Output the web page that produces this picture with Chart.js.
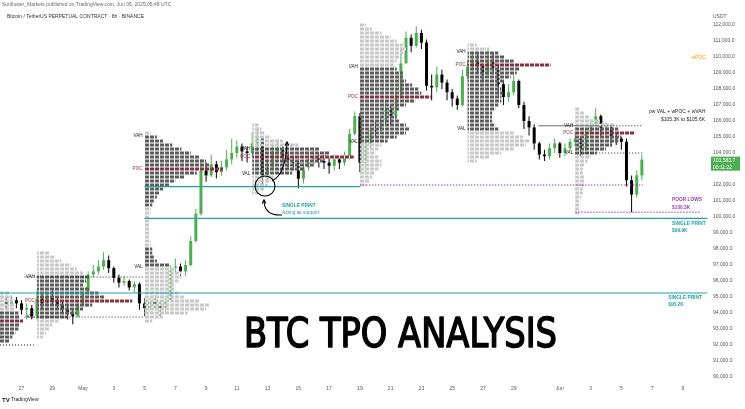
<!DOCTYPE html>
<html>
<head>
<meta charset="utf-8">
<script src="https://cdn.jsdelivr.net/npm/chart.js@4.4.1/dist/chart.umd.min.js"></script>
<style>
html,body{margin:0;padding:0;background:#ffffff;overflow:hidden;}
#c{display:block;}
</style>
</head>
<body>
<canvas id="c" width="745" height="409"></canvas>
<script>
// ================= DATA (prices in thousand USDT, time in days from May 1 00:00) =================
const firstCandleDay = -5;      // Apr 26 00:00
const candlesPerDay = 3;        // 8h candles
const firstOpen = 94.7;
const closes = [
  94.5,94.8,94.6, 94.2,94.3,93.8, 94.9,94.6,95.0, 94.8,94.5,94.3, 94.0,93.8,94.5,
  95.2,96.4,96.6, 96.9,97.3,96.8, 96.2,95.9,96.0, 95.6,95.8,94.6, 94.3,94.7,94.5,
  94.2,94.8,96.8, 96.9,96.6,97.0, 98.5,100.2,102.9, 102.6,103.3,102.8, 103.1,103.6,104.0,
  104.4,104.1,104.0, 104.6,104.9,102.6, 103.1,104.1,104.2, 103.8,103.5,103.4, 102.4,103.1,103.6,
  103.8,103.5,103.4, 103.2,103.6,103.4, 103.7,105.2,106.3, 103.4,104.6,105.5, 105.4,105.9,106.7,
  106.3,107.6,109.6, 111.2,110.7,111.5, 110.9,108.2,108.1, 108.9,108.4,107.8, 107.4,107.0,108.8,
  109.4,109.8,109.5, 108.9,109.8,109.3, 108.3,107.5,107.8, 108.5,107.0,106.0, 105.6,104.6,103.9,
  103.8,104.3,104.6, 104.0,104.3,104.7, 104.9,104.2,105.3, 105.8,106.3,105.4, 105.6,105.0,104.9,
  104.7,102.3,101.4, 102.6,103.5837
];
const highs = [
  95.0,95.1,95.0, 94.8,94.6,94.5, 95.4,95.2,95.3, 95.4,95.0,94.8, 94.6,94.3,94.8,
  95.4,96.6,97.0, 97.3,97.8,97.6, 96.9,96.4,96.3, 96.1,96.0,95.9, 94.9,95.0,95.1,
  94.7,95.0,97.0, 97.4,97.1,97.3, 98.8,100.5,103.6, 103.4,103.9,103.5, 103.5,104.2,104.9,
  104.8,104.6,104.4, 105.3,105.6,104.9, 103.6,104.6,104.8, 104.4,104.1,103.8, 103.6,103.4,104.1,
  104.2,104.0,103.9, 103.7,103.9,103.8, 104.1,105.5,106.6, 106.5,105.0,105.8, 106.0,106.3,107.2,
  107.0,108.0,110.6, 111.6,111.4,111.9, 111.7,111.1,108.9, 109.4,109.2,108.6, 108.0,107.6,109.2,
  109.8,110.3,110.2, 109.6,110.6,110.3, 109.5,108.5,108.3, 108.9,108.6,107.2, 106.3,105.8,104.7,
  104.2,104.6,104.9, 104.7,104.6,104.9, 105.3,105.0,105.6, 106.1,106.8,106.4, 105.9,105.7,105.3,
  105.0,104.9,102.6, 102.9,103.9
];
const lows = [
  94.3,94.4,94.3, 93.9,93.6,93.6, 93.6,94.3,94.4, 94.5,94.2,94.0, 93.6,93.3,93.7,
  94.4,95.1,96.2, 96.4,96.7,96.5, 95.9,95.6,95.7, 95.4,95.3,94.2, 93.8,94.1,94.3,
  93.8,94.0,94.7, 96.4,96.2,96.3, 96.9,98.4,100.1, 102.2,102.5,102.4, 102.6,102.9,103.3,
  103.7,103.5,103.4, 103.8,104.1,101.9, 102.3,102.9,103.6, 103.4,103.1,102.9, 101.8,102.1,102.9,
  103.3,103.1,103.0, 102.7,102.9,103.0, 103.2,103.6,105.1, 102.8,102.7,104.3, 105.0,105.2,105.7,
  105.8,106.1,107.5, 109.6,110.3,110.6, 110.5,107.9,107.3, 107.8,108.0,107.3, 106.9,106.7,106.9,
  108.6,109.1,109.0, 108.4,108.7,108.9, 107.6,107.0,107.2, 107.6,106.8,105.5, 105.1,104.2,103.6,
  103.5,103.6,104.0, 103.7,103.8,104.1, 104.4,103.8,104.1, 105.1,105.6,105.0, 105.0,104.6,104.5,
  104.2,101.9,100.3, 101.2,102.3
];

// axis ticks
const xTickDays   = [-4,-2,0,2,4,6,8,10,12,14,16,18,20,22,24,26,28,31,33,35,37,39];
const xTickLabels = ['27','29','May','3','5','7','9','11','13','15','17','19','21','23','25','27','29','Jun','3','5','7','9'];
const yTickValues = [90000,91000,92000,93000,94000,95000,96000,97000,98000,99000,100000,101000,
                     102000,103000,104000,105000,106000,107000,108000,109000,110000,111000,112000];

// weekly TPO profiles (row step 0.25k, row length in days)
const profileStart = [-10, -3, 4, 11, 18, 25, 32];
const profileLow   = [92.25, 92.5, 93.5, 101.5, 102.0, 103.5, 100.25];
const profileRowStep = 0.25;
const profileRows = [
  [5.2,5.4,5.6,5.8,5.9,6.1,5.9,5.8,5.6,5.5,5.4,5.3,5.2],
  [0.4,0.6,0.8,1.0,1.4,2.0,2.6,3.0,3.6,6.2,4.4,4.0,3.4,3.0,3.2,3.4,3.0,2.6,2.2,1.6,1.2,0.8],
  [0.5,1.2,2.8,4.0,4.2,3.6,2.6,2.2,2.0,2.0,2.2,2.4,2.4,2.0,1.6,0.8,0.6,0.5,0.5,0.4,0.4,0.33,0.33,0.33,
   0.33,0.33,0.33,0.4,0.4,0.5,0.6,0.8,1.0,1.2,1.6,2.0,2.6,3.4,5.1,4.2,4.0,3.6,3.0,2.4,1.8,1.2,0.8,0.4],
  [0.4,0.8,1.0,1.2,1.4,2.6,3.4,4.0,4.6,6.6,5.0,4.4,3.0,2.0,1.2,0.8,0.6,0.4],
  [0.4,0.6,0.8,1.0,1.2,1.4,1.4,1.2,1.0,1.2,1.4,1.8,2.4,3.0,3.2,3.0,2.6,2.4,2.2,2.6,3.0,3.6,4.6,4.0,3.8,
   3.4,3.0,2.8,2.8,2.4,2.2,2.4,2.6,2.8,3.0,2.8,2.4,2.0,1.4,0.8,0.4],
  [0.6,1.4,2.2,3.0,3.8,4.0,3.6,3.0,2.0,1.8,1.6,1.6,1.6,1.8,2.0,2.2,2.2,2.3,2.2,2.0,2.4,2.8,3.2,3.4,5.4,
   3.0,2.4,2.0,1.2,0.6],
  [0.33,0.33,0.33,0.33,0.4,0.5,0.5,0.6,0.6,0.6,0.5,0.5,0.6,0.8,1.0,1.4,2.0,2.4,2.8,3.0,3.9,2.8,2.6,1.6,1.0,0.6,0.3]
];
const profilePOC = [93.5, 94.75, 103.0, 103.75, 107.5, 109.5, 105.25];
const profileVAH = [94.0, 96.25, 105.1, 104.25, 109.4, 110.3, 105.7];
const profileVAL = [92.0, 93.75, 96.9, 102.7, 104.7, 105.5, 104.0];

// horizontal levels
const xMin = -5.4, xMax = 40.7;
const tealLevels   = [101.9, 99.92, 95.25];
const tealFrom     = [4, 4, xMin];
const tealTo       = [18, 40.6, 40.6];
const purpleLevels = [102.0, 100.3];
const purpleFrom   = [18, 32];
const purpleTo     = [36.4, 40.1];
const dottedLevels = [92.0, 96.25, 93.75, 105.7, 104.0];
const dottedFrom   = [xMin, -3.8, -3.8, 33.5, 32];
const dottedTo     = [-3.2, 3.9, 3.9, 36.4, 36.4];
const solidLevels  = [105.7];
const solidFrom    = [29.6];
const solidTo      = [33.5];

// text notes anchored in data space [text, day, price(k)]
const notesLeft = [
  ['POOR LOWS', 38.3, 101.06, 'purple'], ['$100.3K', 38.3, 100.6, 'purple'],
  ['SINGLE PRINT', 38.3, 99.56, 'teal'], ['$99.9K', 38.3, 99.12, 'teal'],
  ['SINGLE PRINT', 38.05, 94.94, 'teal'], ['$95.2K', 38.05, 94.5, 'teal']
];
const notesRight = [
  ['pw VAL + wPOC + wVAH', 40.45, 106.56, 'black'], ['$105.3K to $105.6K', 40.45, 106.06, 'black'],
  ['wPOC', 40.5, 109.94, 'orange']
];
const circleCenter = [11.83, 101.94];
const circleNotes = ['SINGLE PRINT', 'Acting as support'];
const titleText = 'BTC TPO ANALYSIS';
const lastPriceText = ['103,583.7', '00:11:22'];

// ================= STYLE =================
const FONT = '"Liberation Sans", Arial, sans-serif';
const C = {
  up:'#4caf50', down:'#000000', teal:'#1fa3a6', purple:'#a03ab8', orange:'#ff9800',
  poc:'#8a2f3d', dark:'#5c5c5c', light:'#c8c8c8', black:'#1a1a1a', axis:'#555555'
};
const canvas = document.getElementById('c');
const ctx0 = canvas.getContext('2d');
function stripe(color){
  const c = document.createElement('canvas'); c.width = 5; c.height = 1;
  const g = c.getContext('2d');
  g.fillStyle = '#ffffff'; g.fillRect(0,0,5,1);
  g.fillStyle = color; g.fillRect(0,0,4,1);
  return ctx0.createPattern(c, 'repeat');
}
const patDark = stripe(C.dark), patLight = stripe(C.light), patPoc = stripe(C.poc);

// ================= BUILD DATASETS =================
const K = 1000;
const opens = closes.map((c,i)=> i===0 ? firstOpen : closes[i-1]);
const candleDay = closes.map((_,i)=> firstCandleDay + i/candlesPerDay);
const candleColor = closes.map((c,i)=> c >= opens[i] ? C.up : C.down);

const wickData = candleDay.map((t,i)=>({x:t, y:[lows[i]*K, highs[i]*K]}));
const bodyData = candleDay.map((t,i)=>({x:t, y:[opens[i]*K, closes[i]*K]}));

const rowData = [], rowColor = [];
profileRows.forEach((rows,k)=>{
  rows.forEach((len,j)=>{
    const p = profileLow[k] + j*profileRowStep;
    rowData.push({y:p*K, x:[profileStart[k], profileStart[k]+len]});
    const inVA = p >= profileVAL[k] - 1e-6 && p <= profileVAH[k] + 1e-6;
    let col = (inVA && len > 0.45) ? patDark : patLight;
    if (Math.abs(p - profilePOC[k]) < 1e-6) col = patPoc;
    rowColor.push(col);
  });
});

function levelSets(levels, from, to, color, dash, width){
  return levels.map((p,i)=>({
    type:'line', data:[{x:from[i], y:p*K},{x:to[i], y:p*K}],
    borderColor:color, borderWidth:width, borderDash:dash, pointRadius:0,
    fill:false, order:0, xAxisID:'x', yAxisID:'y'
  }));
}

const datasets = [
  {type:'bar', data:wickData, backgroundColor:candleColor, barThickness:1, grouped:false,
   inflateAmount:0, order:4, xAxisID:'x', yAxisID:'y'},
  {type:'bar', data:bodyData, backgroundColor:candleColor, barThickness:3, minBarLength:1,
   grouped:false, inflateAmount:0, order:3, xAxisID:'x', yAxisID:'y'},
  {type:'bar', indexAxis:'y', data:rowData, backgroundColor:rowColor, barThickness:3,
   grouped:false, inflateAmount:0, order:2, xAxisID:'x', yAxisID:'y'},
  ...levelSets(solidLevels, solidFrom, solidTo, '#6b6b6b', [], 1),
  ...levelSets(dottedLevels, dottedFrom, dottedTo, '#222222', [1,2], 1),
  ...levelSets(tealLevels, tealFrom, tealTo, C.teal, [], 1.2),
  ...levelSets(purpleLevels, purpleFrom, purpleTo, C.purple, [1.5,1.5], 1)
];

// ================= OVERLAY PLUGIN =================
const overlay = {
  id:'overlay',
  afterDatasetsDraw(chart){
    const {ctx, scales:{x, y}} = chart;
    const px = t => x.getPixelForValue(t), py = p => y.getPixelForValue(p*K);
    ctx.save();
    ctx.textBaseline = 'middle';
    // profile labels
    ctx.font = '4.6px ' + FONT;
    ctx.textAlign = 'right';
    for (let k=1; k<profileStart.length; k++){
      const lx = px(profileStart[k]) - 2;
      ctx.fillStyle = C.black; ctx.fillText('VAH', lx, py(profileVAH[k]));
      ctx.fillStyle = C.poc;   ctx.fillText('POC', lx, py(profilePOC[k]));
      ctx.fillStyle = C.black; ctx.fillText('VAL', lx, py(profileVAL[k]));
    }
    // notes
    ctx.font = 'bold 4.8px ' + FONT;
    ctx.textAlign = 'left';
    notesLeft.forEach(n=>{ ctx.fillStyle = C[n[3]]; ctx.fillText(n[0], px(n[1]), py(n[2])); });
    ctx.font = '5px ' + FONT;
    ctx.textAlign = 'right';
    notesRight.forEach(n=>{ ctx.fillStyle = C[n[3]]; ctx.fillText(n[0], px(n[1]), py(n[2])); });
    // circle + arrows
    const cx = px(circleCenter[0]), cy = py(circleCenter[1]);
    ctx.strokeStyle = '#000'; ctx.lineWidth = 1.1;
    ctx.beginPath(); ctx.arc(cx, cy, 10, 0, Math.PI*2); ctx.stroke();
    function arrow(sx,sy,qx,qy,ex,ey){
      ctx.beginPath(); ctx.moveTo(sx,sy); ctx.quadraticCurveTo(qx,qy,ex,ey); ctx.stroke();
      const a = Math.atan2(ey-qy, ex-qx), h = 4;
      ctx.beginPath();
      ctx.moveTo(ex - h*Math.cos(a-0.5), ey - h*Math.sin(a-0.5));
      ctx.lineTo(ex, ey);
      ctx.lineTo(ex - h*Math.cos(a+0.5), ey - h*Math.sin(a+0.5));
      ctx.stroke();
    }
    arrow(cx+7, cy-5, cx+21, cy-12, cx+22, cy-44);
    arrow(cx+17, cy+29, cx-1, cy+30, cx-1, cy+14);
    ctx.fillStyle = C.teal; ctx.textAlign = 'left';
    ctx.font = 'bold 4.8px ' + FONT;
    ctx.fillText(circleNotes[0], cx+17, cy+20);
    ctx.font = '4.8px ' + FONT;
    ctx.fillText(circleNotes[1], cx+17, cy+27);
    // big title
    ctx.fillStyle = '#000'; ctx.strokeStyle = '#000';
    ctx.textBaseline = 'alphabetic'; ctx.textAlign = 'left';
    ctx.font = '40px "DejaVu Sans", sans-serif';
    const w = ctx.measureText(titleText).width;
    ctx.translate(244, 347); ctx.scale(313/w, 1);
    ctx.lineWidth = 1.6; ctx.lineJoin = 'round';
    ctx.fillText(titleText, 0, 0);
    ctx.strokeText(titleText, 0, 0);
    ctx.restore();
  },
  afterDraw(chart){
    const {ctx, chartArea:a, scales:{y}} = chart;
    ctx.save();
    ctx.textBaseline = 'middle'; ctx.textAlign = 'left';
    ctx.fillStyle = '#6a6a6a'; ctx.font = '5px ' + FONT;
    ctx.fillText('Sunflower_Markets published on TradingView.com, Jun 06, 2025 05:48 UTC', 2, 5);
    ctx.fillStyle = '#333';
    ctx.fillText('Bitcoin / TetherUS PERPETUAL CONTRACT · 8h · BINANCE', 7, 17);
    ctx.fillStyle = C.axis;
    ctx.fillText('USDT', a.right + 4, a.top + 17);
    // last price box
    const ly = y.getPixelForValue(closes[closes.length-1]*K);
    ctx.fillStyle = C.up;
    ctx.fillRect(a.right + 2, ly - 3, 29, 14);
    ctx.fillStyle = '#fff';
    ctx.fillText(lastPriceText[0], a.right + 4, ly + 1);
    ctx.fillText(lastPriceText[1], a.right + 4, ly + 7.5);
    // TradingView mark
    ctx.fillStyle = '#131722';
    ctx.font = 'bold 6px ' + FONT;
    ctx.fillText('TV', 2, 400);
    ctx.font = '5px ' + FONT;
    ctx.fillText('TradingView', 11, 400);
    ctx.restore();
  }
};

// ================= CHART =================
new Chart(canvas, {
  type:'bar',
  data:{datasets},
  options:{
    responsive:false, animation:false, devicePixelRatio:1,
    layout:{padding:{left:0, right:5, top:0, bottom:9}},
    plugins:{legend:{display:false}, tooltip:{enabled:false}},
    events:[],
    scales:{
      x:{
        type:'linear', min:xMin, max:xMax, offset:false,
        grid:{display:false, drawTicks:false}, border:{display:false},
        afterBuildTicks:s=>{ s.ticks = xTickDays.map(v=>({value:v})); },
        ticks:{autoSkip:false, maxRotation:0, padding:3, color:C.axis,
               font:{size:5, family:FONT}, callback:(v,i)=>xTickLabels[i]},
        afterFit:s=>{ s.height = 17; s.paddingLeft = 0; s.paddingRight = 0; }
      },
      y:{
        type:'linear', position:'right', min:89625, max:113562.5, offset:false, beginAtZero:false,
        grid:{display:false, drawTicks:false}, border:{display:false},
        afterBuildTicks:s=>{ s.ticks = yTickValues.map(v=>({value:v})); },
        ticks:{autoSkip:false, padding:4, color:C.axis, font:{size:5, family:FONT},
               callback:v=>Number(v).toLocaleString('en-US',{minimumFractionDigits:1, maximumFractionDigits:1})},
        afterFit:s=>{ s.width = 31; s.paddingTop = 0; s.paddingBottom = 0; }
      }
    }
  },
  plugins:[overlay]
});
</script>
</body>
</html>
